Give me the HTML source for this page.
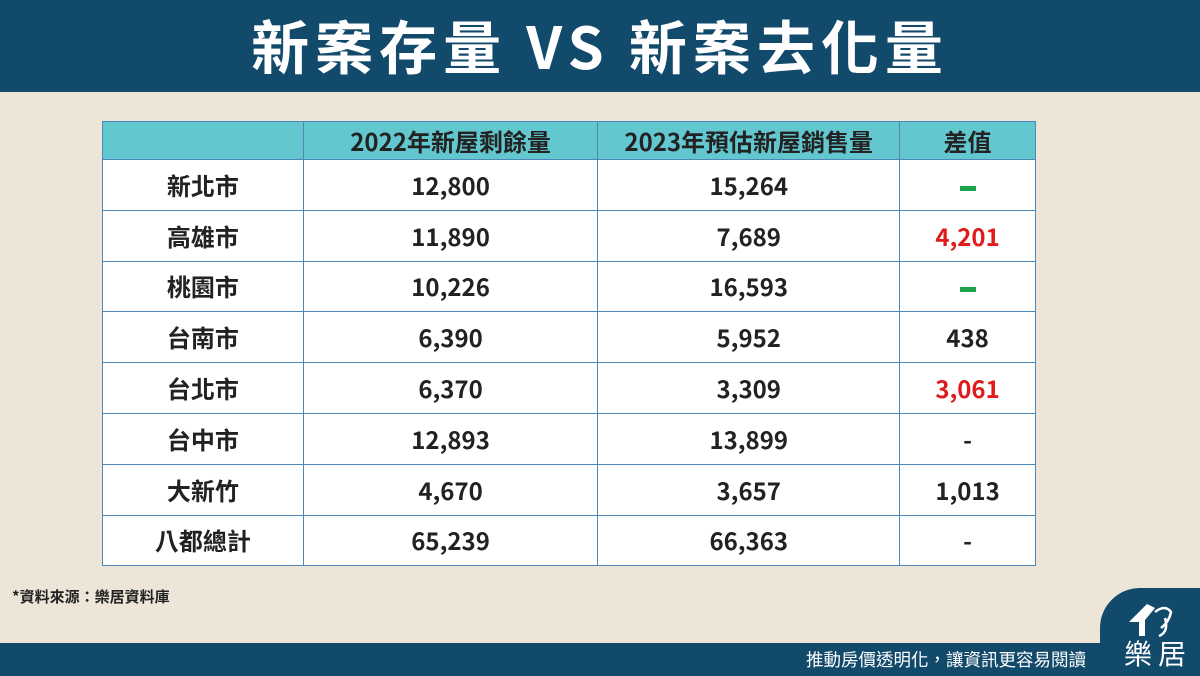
<!DOCTYPE html>
<html><head><meta charset="utf-8"><style>
html,body{margin:0;width:1200px;height:676px;overflow:hidden;}
body{background:#ece5d8;position:relative;font-family:"Noto Sans CJK TC","Liberation Sans",sans-serif;}
#hdr{position:absolute;left:0;top:0;width:1200px;height:92px;background:#124a6b;color:#fff;font-size:58px;font-weight:bold;text-align:center;line-height:88px;letter-spacing:6px;}
table{position:absolute;left:102px;top:121px;border-collapse:collapse;width:934px;}
td,th{border:1.5px solid #4f86b8;text-align:center;font-size:24px;font-weight:bold;color:#222;padding:0;line-height:1;}
th{background:#63c7d0;height:37px;}
td{background:#fff;height:49.8px;}
.r{color:#e01b1b}
.g{display:inline-block;width:16px;height:5px;background:#1aa34a;vertical-align:middle}
#src{position:absolute;left:12px;top:586px;font-size:15px;font-weight:bold;color:#222}
#ftr{position:absolute;left:0;top:643px;width:1200px;height:33px;background:#124a6b}
#tab{position:absolute;left:1100px;top:588px;width:100px;height:88px;background:#124a6b;border-top-left-radius:40px}
#slogan{position:absolute;left:806px;top:648px;color:#fff;font-size:17.5px;line-height:24px}
#logo{position:absolute;left:1124px;top:636px;color:#fff;font-size:28px;letter-spacing:6px;line-height:34px}
</style></head><body>
<div id="hdr">新案存量 VS 新案去化量</div>
<table>
<colgroup><col style="width:201px"><col style="width:295px"><col style="width:302px"><col style="width:136px"></colgroup>
<tr><th></th><th>2022年新屋剩餘量</th><th>2023年預估新屋銷售量</th><th>差值</th></tr>
<tr><td>新北市</td><td>12,800</td><td>15,264</td><td><span class="g"></span></td></tr>
<tr><td>高雄市</td><td>11,890</td><td>7,689</td><td class="r">4,201</td></tr>
<tr><td>桃園市</td><td>10,226</td><td>16,593</td><td><span class="g"></span></td></tr>
<tr><td>台南市</td><td>6,390</td><td>5,952</td><td>438</td></tr>
<tr><td>台北市</td><td>6,370</td><td>3,309</td><td class="r">3,061</td></tr>
<tr><td>台中市</td><td>12,893</td><td>13,899</td><td>-</td></tr>
<tr><td>大新竹</td><td>4,670</td><td>3,657</td><td>1,013</td></tr>
<tr><td>八都總計</td><td>65,239</td><td>66,363</td><td>-</td></tr>
</table>
<div id="src">*資料來源：樂居資料庫</div>
<div id="ftr"></div>
<div id="tab"></div>
<svg style="position:absolute;left:1125px;top:598px" width="60" height="42"><path d="M4 24 L22 6 L30 10 L20 22 L20 38 L14 38 L14 24 Z" fill="#fff"/><path d="M30 14 Q40 6 46 14 Q44 24 36 30 M40 20 Q44 34 34 38" stroke="#fff" stroke-width="2.5" fill="none"/></svg>
<div id="slogan">推動房價透明化，讓資訊更容易閱讀</div>
<div id="logo">樂居</div>
</body></html>
